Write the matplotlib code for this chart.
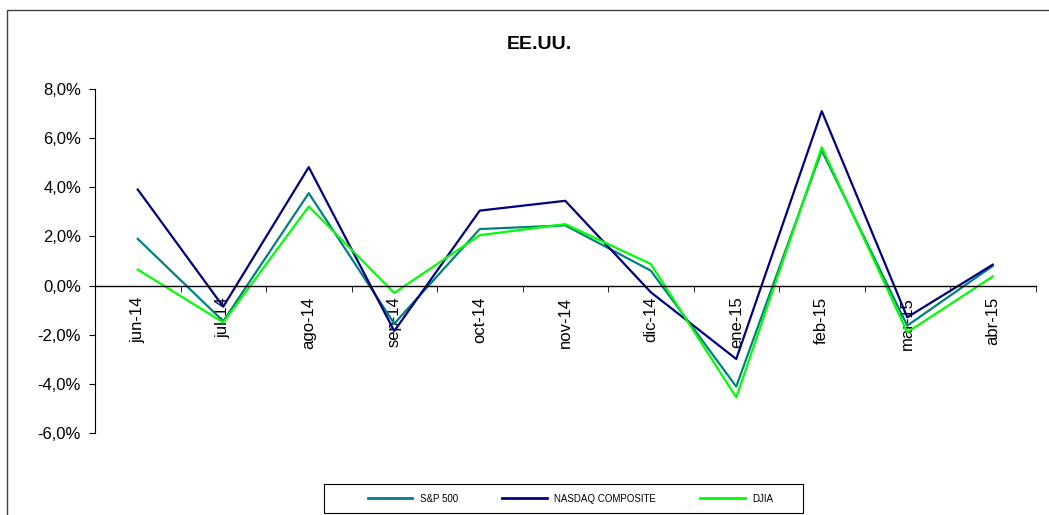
import matplotlib
matplotlib.use("Agg")
import matplotlib.pyplot as plt
from matplotlib.ticker import FuncFormatter, FixedLocator
from matplotlib.patches import Rectangle

months = ['jun-14', 'jul-14', 'ago-14', 'sep-14', 'oct-14', 'nov-14',
          'dic-14', 'ene-15', 'feb-15', 'mar-15', 'abr-15']
sp500 = [1.90, -1.45, 3.76, -1.55, 2.30, 2.45, 0.61, -4.11, 5.50, -1.63, 0.80]
nasdaq = [3.91, -0.86, 4.82, -1.85, 3.05, 3.45, -0.27, -2.99, 7.10, -1.29, 0.85]
djia = [0.65, -1.50, 3.22, -0.30, 2.05, 2.50, 0.88, -4.55, 5.63, -1.90, 0.37]

plt.rcParams['font.family'] = ['Liberation Sans', 'DejaVu Sans']

fig = plt.figure(figsize=(10.49, 5.15), dpi=100)
W, H = 1049, 515
# outer chart frame
fig.patches.append(Rectangle((7 / W, -0.1), 1.2, 1.1 - 10 / H,
                             transform=fig.transFigure, fill=False,
                             edgecolor='#404040', linewidth=1.0))

ax = fig.add_axes([95 / W, 1 - 433 / H, (1035.5 - 95) / W, (433 - 89) / H])
x = list(range(len(months)))
ax.plot(x, sp500, color='#008080', lw=1.6, label='S&P 500')
ax.plot(x, nasdaq, color='#000080', lw=1.6, label='NASDAQ COMPOSITE')
ax.plot(x, djia, color='#00FF00', lw=1.6, label='DJIA')

ax.set_xlim(-0.5, len(months) - 0.5)
ax.set_ylim(-6, 8)
ax.set_yticks(range(-6, 9, 2))
ax.yaxis.set_major_formatter(FuncFormatter(lambda v, p: f"{v:.1f}%".replace('.', ',')))
ax.tick_params(axis='y', direction='out', length=4, labelsize=12, pad=6)

ax.spines['top'].set_visible(False)
ax.spines['right'].set_visible(False)
ax.spines['bottom'].set_position(('data', 0))
ax.spines['bottom'].set_linewidth(1.0)
ax.spines['left'].set_linewidth(0.8)

ax.set_xticks(x)
ax.set_xticklabels(months, rotation=90, fontsize=12, va='top')
ax.tick_params(axis='x', which='major', length=0, pad=8)
ax.xaxis.set_minor_locator(FixedLocator([i + 0.5 for i in range(-1, len(months))]))
ax.tick_params(axis='x', which='minor', direction='out', length=4)

fig.text(539.5 / W, 1 - 44.5 / H, 'EE.UU.', ha='center', va='center',
         fontsize=14, fontweight='bold')

# legend box drawn separately (Excel style, wider than its content)
fig.patches.append(Rectangle((324 / W, 1 - 513 / H), (803 - 324) / W, (513 - 484) / H,
                             transform=fig.transFigure, fill=False,
                             edgecolor='black', linewidth=0.8))
leg = fig.legend(loc='center', bbox_to_anchor=(570.5 / W, 1 - 498.5 / H),
                 ncol=3, fontsize=7, frameon=False,
                 handlelength=4.6, columnspacing=4.5, borderpad=0.2,
                 borderaxespad=0)
for l in leg.get_lines():
    l.set_linewidth(2.0)

fig.savefig('out.png', dpi=100)
